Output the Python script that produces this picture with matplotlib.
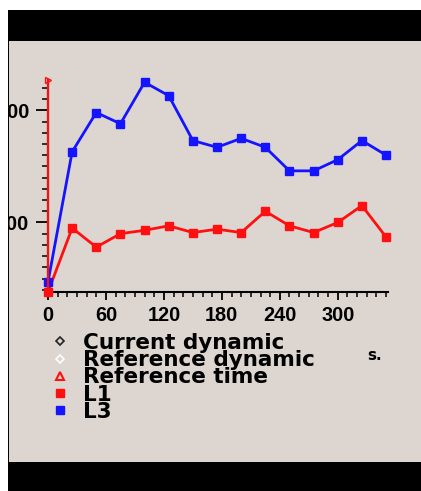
import matplotlib
matplotlib.use("Agg")
import matplotlib.pyplot as plt
from matplotlib.lines import Line2D
from matplotlib.patches import Rectangle

# values
t = [0, 25, 50, 75, 100, 125, 150, 175, 200, 225, 250, 275, 300, 325, 350]
l3 = [47, 163, 198, 188, 225, 213, 173, 167, 175, 167, 146, 146, 156, 173, 160]
l1 = [38, 95, 78, 90, 93, 97, 91, 94, 91, 110, 97, 91, 100, 115, 87]
xticks = [0, 60, 120, 180, 240, 300]
yticks = [100, 200]
legend_labels = ["Current dynamic", "Reference dynamic", "Reference time", "L1", "L3"]

W, H = 421, 491
bg = "#ddd6d0"
fig = plt.figure(figsize=(W / 100, H / 100), dpi=100)
fig.patch.set_facecolor("white")

# grey panel of the screenshot
fig.add_artist(Rectangle((9 / W, 1 - 462 / H), 412 / W, 421 / H, transform=fig.transFigure,
                         facecolor=bg, edgecolor="none", zorder=-5))

ax = fig.add_axes([48 / W, 1 - 292 / H, 340 / W, 212 / H])
ax.set_facecolor(bg)
ax.set_xlim(0, 352)
ax.set_ylim(38, 227)

ax.plot(t, l1, color="#ff1010", lw=2, marker="s", ms=5.5, clip_on=False, zorder=3)
ax.plot(t, l3, color="#1414ff", lw=2, marker="s", ms=5.5, clip_on=False, zorder=3)

# reference time line at t=0
ax.plot([0, 0], [38, 227], color="#ff1010", lw=1.6, clip_on=False, zorder=4)
ax.plot([0], [227], color="#ff1010", marker=">", ms=4, mfc="none", mew=1, clip_on=False, zorder=4)

for s in ["top", "right"]:
    ax.spines[s].set_visible(False)
for s in ["left", "bottom"]:
    ax.spines[s].set_linewidth(1.5)

ax.set_xticks(xticks)
ax.set_xticks(range(0, 351, 10), minor=True)
ax.set_yticks(yticks)
ax.set_yticks(range(40, 227, 10), minor=True)
ax.set_xticklabels([str(v) for v in xticks])
ax.set_yticklabels([str(v) for v in yticks])
ax.tick_params(which="both", color="black", labelcolor="black")
ax.tick_params(axis="x", which="major", length=6, width=1.3, pad=4)
ax.tick_params(axis="x", which="minor", length=3.5, width=1.1)
ax.tick_params(axis="y", which="major", length=8.5, width=1.3, pad=5)
ax.tick_params(axis="y", which="minor", length=4.5, width=1.1)
for lab in ax.get_xticklabels() + ax.get_yticklabels():
    lab.set_fontfamily("Liberation Sans")
    lab.set_fontweight("bold")
    lab.set_fontsize(14.4)

handles = [
    Line2D([], [], ls="none", marker="D", ms=4, mfc="none", mec="#222222", mew=1.2),
    Line2D([], [], ls="none", marker="D", ms=4, mfc="none", mec="white", mew=1.2),
    Line2D([], [], ls="none", marker="^", ms=6, mfc="none", mec="#ff1010", mew=1.5),
    Line2D([], [], ls="none", marker="s", ms=5.5, color="#ff1010"),
    Line2D([], [], ls="none", marker="s", ms=5.5, color="#1414ff"),
]
leg = fig.legend(handles, legend_labels, loc="upper left", bbox_to_anchor=(49 / W, 1 - 333 / H),
                 frameon=False, handlelength=1.0, handletextpad=0.6, labelspacing=-0.13,
                 borderpad=0, borderaxespad=0,
                 prop={"family": "DejaVu Sans", "weight": "bold", "size": 15.5})

fig.text(375 / W, 1 - 355 / H, "s.", fontsize=11, fontweight="bold", ha="center", va="center")

# screenshot frame: white strip on the left, black bars top and bottom
fig.add_artist(Rectangle((0, 0), 8 / W, 1, transform=fig.transFigure,
                         facecolor="white", edgecolor="none", zorder=10))
fig.add_artist(Rectangle((8 / W, 0), 1.2 / W, 1 - 10 / H, transform=fig.transFigure,
                         facecolor="black", edgecolor="none", zorder=10))
fig.add_artist(Rectangle((8 / W, 1 - 41 / H), 413 / W, 31 / H, transform=fig.transFigure,
                         facecolor="black", edgecolor="none", zorder=10))
fig.add_artist(Rectangle((8 / W, 0), 413 / W, 29 / H, transform=fig.transFigure,
                         facecolor="black", edgecolor="none", zorder=10))

fig.savefig("out.png", dpi=100, facecolor="white")
